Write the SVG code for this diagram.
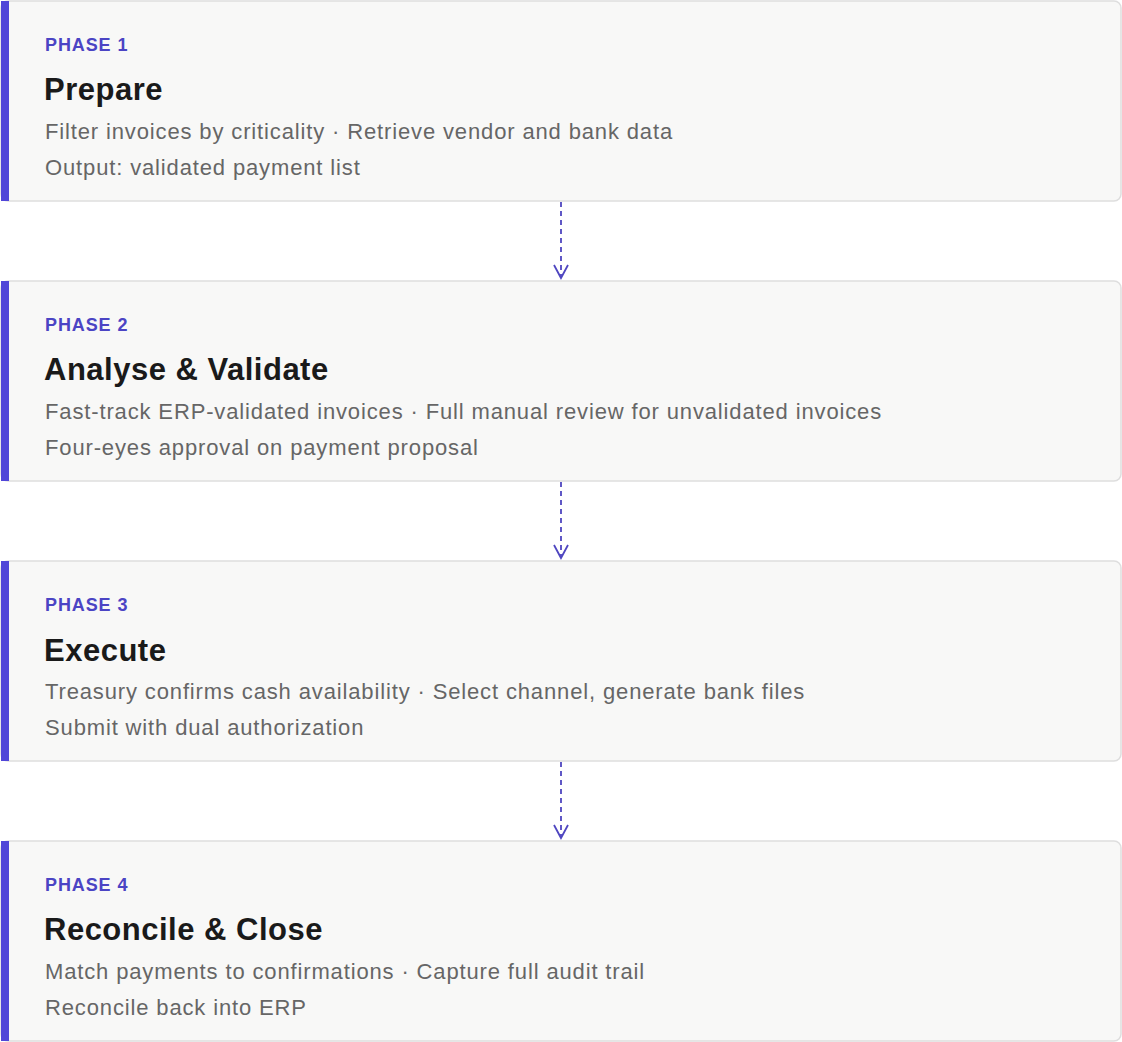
<svg xmlns="http://www.w3.org/2000/svg" width="1122" height="1042" viewBox="0 0 1122 1042">
<defs>
<style>
.box{fill:#f8f8f7;stroke:#dedede;stroke-width:1.5}
.bar{fill:#5046d8}
.ph{font-family:"Liberation Sans",Arial,sans-serif;font-weight:bold;font-size:18px;letter-spacing:0.9px;fill:#4b44c4}
.tt{font-family:"Liberation Sans",Arial,sans-serif;font-weight:bold;font-size:31px;letter-spacing:0.5px;fill:#1a1a1a}
.bd{font-family:"Liberation Sans",Arial,sans-serif;font-size:22px;letter-spacing:0.86px;fill:#666666}
.con{stroke:#4f46c0;stroke-width:1.8;fill:none}
</style>
<marker id="ah" markerWidth="18" markerHeight="18" refX="9" refY="15" orient="0" markerUnits="userSpaceOnUse">
<path d="M2,2 L9,15 L16,2" fill="none" stroke="#4f46c0" stroke-width="1.8"/>
</marker>
</defs>
<rect width="1122" height="1042" fill="#ffffff"/>
<g id="connectors">
<line class="con" x1="561" y1="202" x2="561" y2="278" stroke-dasharray="5,4" marker-end="url(#ah)"/>
<line class="con" x1="561" y1="482" x2="561" y2="558" stroke-dasharray="5,4" marker-end="url(#ah)"/>
<line class="con" x1="561" y1="762" x2="561" y2="838" stroke-dasharray="5,4" marker-end="url(#ah)"/>
</g>
<g id="phase1">
<rect class="box" x="1" y="1" width="1120" height="200" rx="7"/>
<rect class="bar" x="1" y="1" width="8" height="200"/>
<text class="ph" x="45" y="51">PHASE 1</text>
<text class="tt" x="44" y="100">Prepare</text>
<text class="bd" x="45" y="139">Filter invoices by criticality · Retrieve vendor and bank data</text>
<text class="bd" x="45" y="175">Output: validated payment list</text>
</g>
<g id="phase2">
<rect class="box" x="1" y="281" width="1120" height="200" rx="7"/>
<rect class="bar" x="1" y="281" width="8" height="200"/>
<text class="ph" x="45" y="331">PHASE 2</text>
<text class="tt" x="44" y="380">Analyse &amp; Validate</text>
<text class="bd" x="45" y="419">Fast-track ERP-validated invoices · Full manual review for unvalidated invoices</text>
<text class="bd" x="45" y="455">Four-eyes approval on payment proposal</text>
</g>
<g id="phase3">
<rect class="box" x="1" y="561" width="1120" height="200" rx="7"/>
<rect class="bar" x="1" y="561" width="8" height="200"/>
<text class="ph" x="45" y="611">PHASE 3</text>
<text class="tt" x="44" y="661">Execute</text>
<text class="bd" x="45" y="699">Treasury confirms cash availability · Select channel, generate bank files</text>
<text class="bd" x="45" y="735">Submit with dual authorization</text>
</g>
<g id="phase4">
<rect class="box" x="1" y="841" width="1120" height="200" rx="7"/>
<rect class="bar" x="1" y="841" width="8" height="200"/>
<text class="ph" x="45" y="891">PHASE 4</text>
<text class="tt" x="44" y="940">Reconcile &amp; Close</text>
<text class="bd" x="45" y="979">Match payments to confirmations · Capture full audit trail</text>
<text class="bd" x="45" y="1015">Reconcile back into ERP</text>
</g>
</svg>
